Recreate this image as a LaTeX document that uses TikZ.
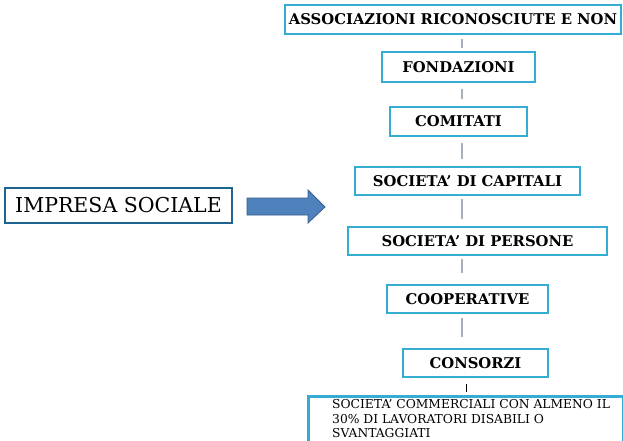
\documentclass[tikz,border=0pt]{standalone}
\usepackage{fontspec}
\setmainfont{DejaVu Serif}
\usetikzlibrary{calc}
\definecolor{boxcyan}{HTML}{35ACD2}
\definecolor{darkblue}{HTML}{1F6491}
\definecolor{arrowfill}{HTML}{4F81BD}
\definecolor{arrowline}{HTML}{385D8A}
\definecolor{conngray}{HTML}{A7B0B8}
\begin{document}
\begin{tikzpicture}[x=1pt,y=-1pt,
  box/.style={draw=boxcyan,line width=2.7pt,fill=white,inner sep=0pt,font=\bfseries\fontsize{14.8}{16}\selectfont},
  conn/.style={draw=conngray,line width=1.3pt},
  bigarrow/.style={fill=arrowfill,draw=arrowline,line width=0.8pt,line join=miter}]
\useasboundingbox (0,0) rectangle (623,441);
\fill[white] (0,0) rectangle (623,441);
\node[box,minimum width=336pt,minimum height=29pt] (assoc) at (453,19.5) {ASSOCIAZIONI RICONOSCIUTE E NON};
\node[box,minimum width=153pt,minimum height=30pt] (fond) at (458.5,67) {FONDAZIONI};
\node[box,minimum width=137pt,minimum height=29pt] (comit) at (458.5,121.5) {COMITATI};
\node[box,minimum width=225pt,minimum height=28pt] (capit) at (467.5,181) {SOCIETA’ DI CAPITALI};
\node[box,minimum width=259pt,minimum height=28pt] (pers) at (477.5,241) {SOCIETA’ DI PERSONE};
\node[box,minimum width=161pt,minimum height=28pt] (coop) at (467.5,299) {COOPERATIVE};
\node[box,minimum width=145pt,minimum height=28pt] (cons) at (475.5,363) {CONSORZI};
\node[box,minimum width=315pt,minimum height=52pt,anchor=north west] (comm) at (307,395) {};
\node[anchor=north west,align=left,inner sep=0pt,font=\fontsize{12.3}{14.8}\selectfont] (commtext) at (332,399)
  {SOCIETA\char39{} COMMERCIALI CON ALMENO IL\\30\% DI LAVORATORI DISABILI O\\SVANTAGGIATI};
\node[draw=darkblue,line width=2.3pt,fill=white,minimum width=227pt,minimum height=35pt,inner sep=0pt,font=\fontsize{20.5}{22}\selectfont] (impresa) at (118.5,205.5) {IMPRESA SOCIALE};
% block arrow
\draw[bigarrow] (247,198) -- (308,198) -- (308,190) -- (325,207) -- (308,223) -- (308,215) -- (247,215) -- cycle;
\coordinate (cx) at (462,0);
\coordinate (cx2) at (466,0);
\draw[conn,shorten <=4pt,shorten >=3pt] (assoc.south -| cx) -- (fond.north -| cx);
\draw[conn,shorten <=6pt,shorten >=7pt] (fond.south -| cx) -- (comit.north -| cx);
\draw[conn,shorten <=6pt,shorten >=7pt] (comit.south -| cx) -- (capit.north -| cx);
\draw[conn,shorten <=3pt,shorten >=7pt] (capit.south -| cx) -- (pers.north -| cx);
\draw[conn,shorten <=3pt,shorten >=11pt] (pers.south -| cx) -- (coop.north -| cx);
\draw[conn,shorten <=4pt,shorten >=11pt] (coop.south -| cx) -- (cons.north -| cx);
\draw[black,line width=0.8pt,shorten <=6pt,shorten >=3pt] (cons.south -| cx2) -- (comm.north -| cx2);
\end{tikzpicture}
\end{document}
